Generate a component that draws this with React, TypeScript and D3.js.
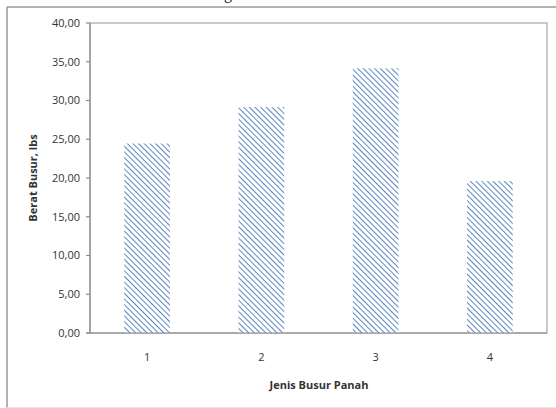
import React from "react";
import * as d3 from "d3";

const categories = ["1", "2", "3", "4"];
const values = [24.45, 29.15, 34.15, 19.6];
const yTicks = [0, 5, 10, 15, 20, 25, 30, 35, 40];
const yTitle = "Berat Busur, lbs";
const xTitle = "Jenis Busur Panah";

export default function App() {
  const W = 556, H = 408;
  const left = 90, right = 547, top = 23, bottom = 333;
  const x = d3.scaleBand<string>().domain(categories).range([left, right]).paddingInner(0.6).paddingOuter(0.3);
  const y = d3.scaleLinear().domain([0, 40]).range([bottom, top]);
  const fmt = (v: number) => v.toFixed(2).replace(".", ",");
  const font = "'Open Sans', 'Liberation Sans', sans-serif";
  return (
    <svg width={W} height={H} style={{ position: "absolute", left: 0, top: 0, background: "#fff" }}>
      <defs>
        <pattern id="hatch" patternUnits="userSpaceOnUse" width="4" height="4" patternTransform="rotate(-45)">
          <rect width="4" height="4" fill="#ffffff" />
          <line x1="0" y1="0" x2="0" y2="4" stroke="#5b87c0" strokeWidth="2" />
        </pattern>
      </defs>
      <text x={228} y={-1} fontFamily="'Liberation Serif', serif" fontSize={16} textAnchor="middle" fill="#222">g</text>
      {/* outer frame */}
      <line x1={7} y1={7} x2={556} y2={7} stroke="#9a9a9a" strokeWidth={1.5} />
      <line x1={7} y1={7} x2={7} y2={408} stroke="#9a9a9a" strokeWidth={1.5} />
      <line x1={7} y1={407.5} x2={556} y2={407.5} stroke="#e8e8e8" strokeWidth={1} />
      {/* plot border */}
      <rect x={left} y={top} width={right - left} height={bottom - top} fill="none" stroke="#a6a6a6" strokeWidth={1.2} />
      {/* bars */}
      {values.map((v, i) => (
        <rect key={i} x={x(categories[i])} y={y(v)} width={x.bandwidth()} height={bottom - y(v)} fill="url(#hatch)" />
      ))}
      {/* axes */}
      <line x1={left} y1={top} x2={left} y2={bottom} stroke="#8c8c8c" strokeWidth={1.2} />
      <line x1={left - 4} y1={bottom} x2={right} y2={bottom} stroke="#8c8c8c" strokeWidth={1.2} />
      {yTicks.map((t) => (
        <g key={t}>
          <line x1={left - 4} x2={left} y1={y(t)} y2={y(t)} stroke="#8c8c8c" strokeWidth={1.2} />
          <text x={80} y={y(t)} dy="0.35em" textAnchor="end" fontFamily={font} fontSize={11} fill="#333">{fmt(t)}</text>
        </g>
      ))}
      {categories.map((c) => (
        <text key={c} x={(x(c) as number) + x.bandwidth() / 2} y={357} dy="0.35em" textAnchor="middle" fontFamily={font} fontSize={11} fill="#333">{c}</text>
      ))}
      <text x={319} y={385} dy="0.35em" textAnchor="middle" fontFamily={font} fontSize={11} fontWeight="bold" fill="#333">{xTitle}</text>
      <text transform={`translate(33,178) rotate(-90)`} dy="0.35em" textAnchor="middle" fontFamily={font} fontSize={11} fontWeight="bold" fill="#333">{yTitle}</text>
    </svg>
  );
}
